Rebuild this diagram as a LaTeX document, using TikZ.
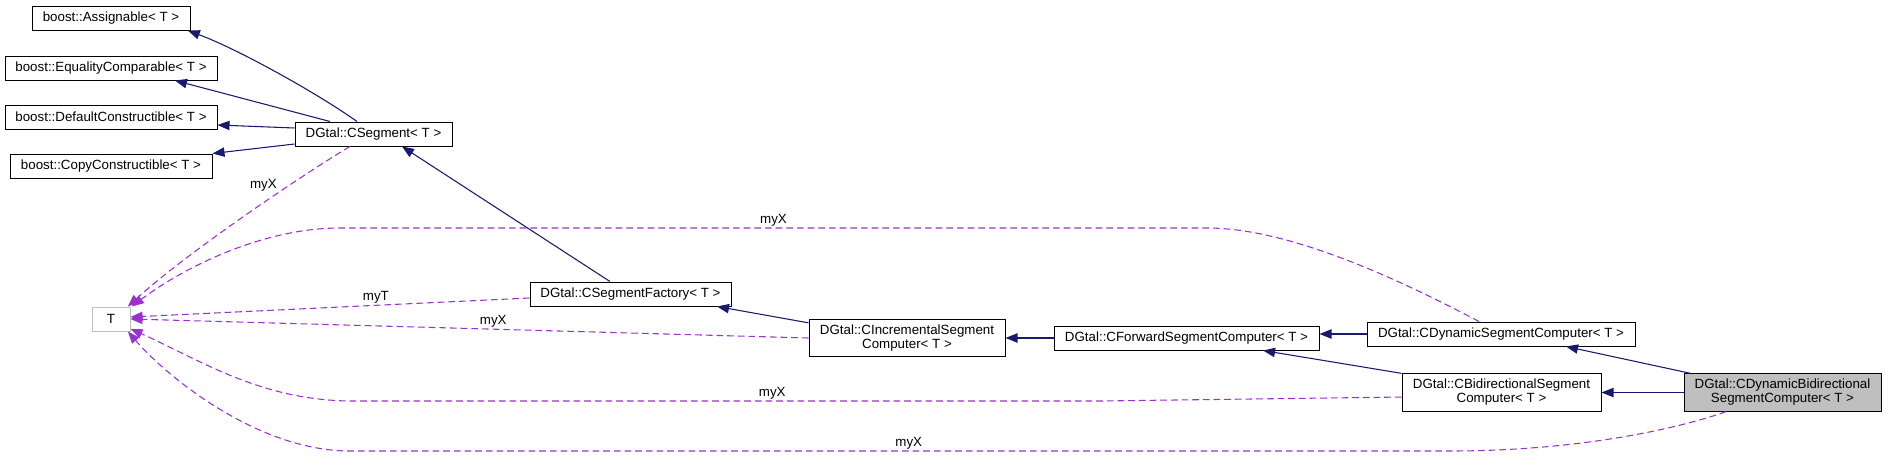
\documentclass[tikz,border=0pt]{standalone}
\usepackage{fontspec}
\setmainfont{Liberation Sans}
\usetikzlibrary{arrows.meta}
\definecolor{DgNavy}{RGB}{25,25,112}
\definecolor{DgPurple}{RGB}{154,50,205}
\definecolor{DgGray}{RGB}{191,191,191}
\tikzset{
  dg/box/.style={
    draw=black,
    line width=0.75pt,
    fill=white,
    align=center,
    inner sep=0pt,
    minimum height=18pt,
    font=\fontsize{10}{10.5}\selectfont
  },
  dg/twoline/.style={dg/box, minimum height=28pt},
  dg/focus/.style={dg/twoline, fill=DgGray},
  dg/tbox/.style={dg/box, draw=DgGray, minimum width=28.5pt},
  dg/inherit/.style={-{Triangle[length=9pt,width=7pt]}, line width=0.8pt, draw=DgNavy},
  dg/member/.style={-{Triangle[length=9pt,width=7pt]}, line width=0.8pt, dash pattern=on 5pt off 3pt, draw=DgPurple},
  dg/label/.style={font=\fontsize{10}{12}\selectfont, inner sep=1pt}
}

\begin{document}
\begin{tikzpicture}[x=0.75pt,y=-0.75pt]
  \useasboundingbox (0,0) rectangle (1886,457);
  % boost concepts
  \node[dg/box,minimum width=118.5pt] (assign) at (111,18) {boost::Assignable< T >};
  \node[dg/box,minimum width=159pt] (eqcomp) at (111,68) {boost::EqualityComparable< T >};
  \node[dg/box,minimum width=159pt] (defcon) at (111,117) {boost::DefaultConstructible< T >};
  \node[dg/box,minimum width=151.5pt] (copycon) at (111,166) {boost::CopyConstructible< T >};
  % DGtal concepts
  \node[dg/box,minimum width=117.75pt] (cseg) at (373.5,134) {DGtal::CSegment< T >};
  \node[dg/tbox] (tparam) at (111,319) {T};
  \node[dg/box,minimum width=150.75pt] (factory) at (630.5,294) {DGtal::CSegmentFactory< T >};
  \node[dg/twoline,minimum width=147pt] (incr) at (907,338) {DGtal::CIncrementalSegment\\Computer< T >};
  \node[dg/box,minimum width=198.75pt] (fwd) at (1186.5,338) {DGtal::CForwardSegmentComputer< T >};
  \node[dg/box,minimum width=201pt] (dynseg) at (1501,334) {DGtal::CDynamicSegmentComputer< T >};
  \node[dg/twoline,minimum width=149.25pt] (bidir) at (1501.5,392.5) {DGtal::CBidirectionalSegment\\Computer< T >};
  \node[dg/focus,minimum width=147.75pt] (dynbidir) at (1782.5,392.5) {DGtal::CDynamicBidirectional\\SegmentComputer< T >};
  % inheritance
  \draw[dg/inherit] ([xshift=-12.4pt]cseg.north) .. controls (320,95) and (240,50) .. ([xshift=-2pt]assign.south east);
  \draw[dg/inherit] ([xshift=-32.6pt]cseg.north) -- ([xshift=48pt]eqcomp.south);
  \draw[dg/inherit] ([yshift=4.5pt]cseg.west) -- ([yshift=-6pt]defcon.east);
  \draw[dg/inherit] ([yshift=-7.5pt]cseg.west) -- (copycon.north east);
  \draw[dg/inherit] ([xshift=-15.4pt]factory.north) -- ([xshift=21.4pt]cseg.south);
  \draw[dg/inherit] ([yshift=-3pt]incr.north west) -- ([xshift=64.9pt]factory.south);
  \draw[dg/inherit] (fwd.west) -- (incr.east |- fwd.west);
  \draw[dg/inherit] (dynseg.west) -- (fwd.east |- dynseg.west);
  \draw[dg/inherit] (bidir.north west) -- ([xshift=57.4pt]fwd.south);
  \draw[dg/inherit] ([xshift=5.25pt]dynbidir.north west) -- ([xshift=48.75pt]dynseg.south);
  \draw[dg/inherit] (dynbidir.west) -- (bidir.east);
  % members of type T
  \draw[dg/member] ([xshift=-17.6pt]cseg.south) .. controls (310,170) and (190,250) .. node[dg/label,pos=0.33,anchor=east,xshift=-8pt] {myX} ([xshift=-2pt]tparam.north east);
  \draw[dg/member] ([xshift=-16.5pt]dynseg.north) .. controls (1400,280) and (1290,228) .. (1207,228)
    -- node[dg/label,above,pos=0.5] {myX} (340,228) .. controls (260,228) and (180,270) .. ([xshift=1pt]tparam.north east);
  \draw[dg/member] ([yshift=-3pt]factory.west) -- node[dg/label,above,pos=0.385] {myT} ([yshift=1.5pt]tparam.east);
  \draw[dg/member] (incr.west) -- node[dg/label,above,pos=0.465] {myX} (tparam.east);
  \draw[dg/member] ([yshift=-3.4pt]bidir.west) -- (1100,401)
    -- node[dg/label,above,pos=0.437] {myX} (350,401) .. controls (260,400) and (200,360) .. ([yshift=2pt]tparam.south east);
  \draw[dg/member] ([xshift=-42.4pt]dynbidir.south) .. controls (1680,428) and (1580,451) .. (1450,451)
    -- node[dg/label,above,pos=0.492] {myX} (350,451) .. controls (260,451) and (170,380) .. ([xshift=-2pt]tparam.south east);
\end{tikzpicture}
\end{document}
